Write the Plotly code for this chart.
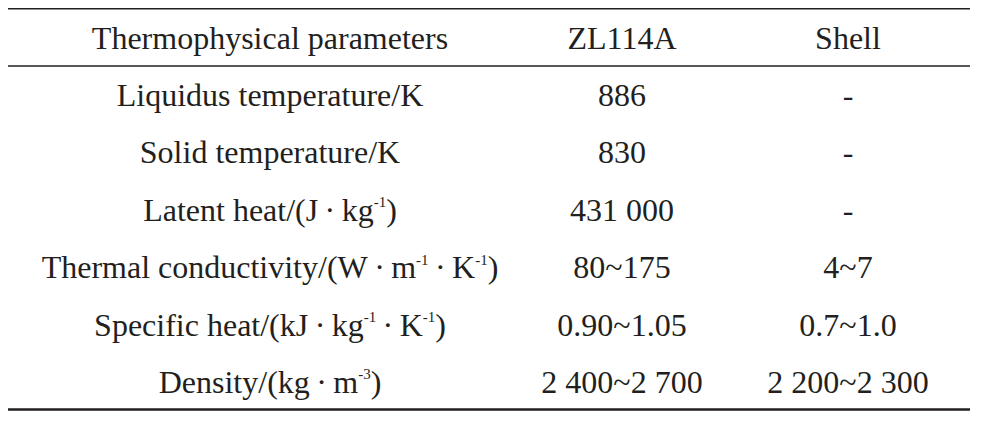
import plotly.graph_objects as go

# table content
header = ["Thermophysical parameters", "ZL114A", "Shell"]
parameters = [
    "Liquidus temperature/K",
    "Solid temperature/K",
    "Latent heat/(J\u2009·\u2009kg<sup>-1</sup>)",
    "Thermal conductivity/(W\u2009·\u2009m<sup>-1</sup>\u2009·\u2009K<sup>-1</sup>)",
    "Specific heat/(kJ\u2009·\u2009kg<sup>-1</sup>\u2009·\u2009K<sup>-1</sup>)",
    "Density/(kg\u2009·\u2009m<sup>-3</sup>)",
]
zl114a = ["886", "830", "431 000", "80~175", "0.90~1.05", "2 400~2 700"]
shell = ["-", "-", "-", "4~7", "0.7~1.0", "2 200~2 300"]

# page body has an 8px margin, so the figure is drawn 8px in from the corner
OFF = 8
W, H = 992 - 2 * OFF, 428 - 2 * OFF
col_x = [270 - OFF, 622 - OFF, 848 - OFF]   # column centres, px
row0, row_step = 40.5 - OFF, 57.4           # header centre and row pitch, px
ink = "#231f20"
serif = "'Liberation Serif', 'Times New Roman', Times, serif"
font = dict(family=serif, size=32, color=ink)


def small_sup(s):
    # the source uses small superscripts, shrink plotly's default 70%
    return (s.replace("<sup>", "<sup><span style='font-size:15px'>")
             .replace("</sup>", "</span></sup>"))


fig = go.Figure()
columns = [header[:1] + parameters, header[1:2] + zl114a, header[2:] + shell]
for cx, col in zip(col_x, columns):
    fig.add_trace(go.Scatter(
        x=[cx] * len(col),
        y=list(range(len(col))),
        text=[small_sup(t) for t in col],
        mode="text",
        textposition="middle center",
        textfont=font,
        hoverinfo="skip",
        showlegend=False,
    ))

# rules: top, under header, bottom
def rule(ypix, width):
    yp = 1 - (ypix - OFF) / H
    fig.add_shape(type="line", xref="x", yref="paper", x0=8 - OFF, x1=970 - OFF,
                  y0=yp, y1=yp, line=dict(color=ink, width=width))

rule(8.5, 2.2)
rule(66, 1.3)
rule(409.5, 2.4)

fig.update_layout(
    width=W, height=H,
    margin=dict(l=0, r=0, t=0, b=0),
    font=dict(family=serif, color=ink),
    paper_bgcolor="white", plot_bgcolor="white",
    xaxis=dict(range=[0, W], visible=False, fixedrange=True),
    yaxis=dict(range=[(H - row0) / row_step, -row0 / row_step], visible=False, fixedrange=True),
)

fig.write_html("out.html")
